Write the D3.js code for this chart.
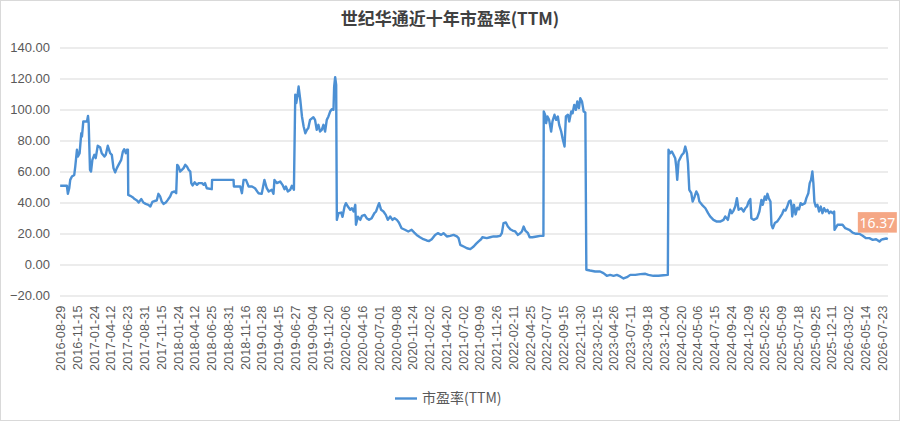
<!DOCTYPE html>
<html>
<head>
<meta charset="utf-8">
<script src="https://cdn.jsdelivr.net/npm/d3@7"></script>
<style>
  body { margin: 0; background: #fff; }
  svg { display: block; font-family: "Noto Sans", "Noto Sans CJK SC", sans-serif; }
  .grid line { stroke: #e6e6e6; stroke-width: 1.3; }
  .grid path { display: none; }
  .pe-line { fill: none; stroke: #4c90d4; stroke-width: 2.4; stroke-linejoin: round; }
</style>
</head>
<body>
<script>
// trading-day count of the series and the date shown every 50 trading days
const dayCount = 2469;
const dateLabels = [
  "2016-08-29", "2016-11-15", "2017-01-24", "2017-04-12", "2017-06-23", "2017-08-31", "2017-11-15",
  "2018-01-24", "2018-04-12", "2018-06-25", "2018-08-31", "2018-11-16", "2019-01-28", "2019-04-15",
  "2019-06-27", "2019-09-04", "2019-11-20", "2020-02-06", "2020-04-16", "2020-07-01", "2020-09-08",
  "2020-11-24", "2021-02-02", "2021-04-20", "2021-07-02", "2021-09-09", "2021-11-26", "2022-02-11",
  "2022-04-25", "2022-07-07", "2022-09-15", "2022-11-30", "2023-02-15", "2023-04-26", "2023-07-11",
  "2023-09-18", "2023-12-04", "2024-02-20", "2024-05-06", "2024-07-15", "2024-09-24", "2024-12-09",
  "2025-02-25", "2025-05-09", "2025-07-18", "2025-09-25", "2025-12-11", "2026-03-02", "2026-05-14",
  "2026-07-23"
];
const labelStep = 50;
const yTicks = [-20, 0, 20, 40, 60, 80, 100, 120, 140];

// [trading day index, PE TTM]
const pePoints = [
  [0,50.8],[20,50.8],[23,45.6],[27,49.2],[30,54.6],[35,56.8],[42,57.8],[45,63.2],[50,74],[53,69.7],
  [58,71.8],[63,84.7],[65,82.6],[69,92.3],[80,92.3],[83,95.9],[85,91.2],[89,61],[92,60],[96,67.5],
  [102,70.8],[106,68.6],[112,76.6],[119,75.7],[124,71.8],[132,69.7],[136,70.8],[142,76.6],[149,71.8],
  [154,70.8],[159,62.2],[164,59.4],[169,62.2],[174,64.3],[182,67.5],[187,72.9],[191,74.4],[196,71.8],
  [199,74],[202,74],[203,44.9],[209,44.3],[216,43.4],[222,42.2],[229,41.3],[234,40],[242,42.2],
  [248,40],[255,39.1],[263,38.5],[269,37.4],[275,40.4],[283,41.1],[288,41.3],[293,45.6],[298,43.9],
  [303,40.6],[308,39.1],[315,40],[321,41.7],[328,43.9],[333,46.5],[341,47.1],[346,46],[349,64.3],
  [353,63.2],[358,60],[363,61.1],[368,62.2],[373,64.3],[378,63.2],[383,61.1],[388,60],[391,52.5],
  [395,51],[401,53],[408,51.4],[413,52.5],[423,52.5],[428,51.4],[432,52.5],[437,49.2],[452,48.6],
  [453,54.6],[517,54.6],[518,50.3],[537,50.3],[542,46],[547,54.6],[554,54.6],[562,50.3],[572,50.3],
  [581,49.2],[591,46],[601,45.6],[609,54.6],[616,49.2],[622,47.1],[631,48.2],[636,45.6],[639,54.6],
  [646,52.5],[656,53.5],[663,51.4],[669,48.6],[673,50.3],[679,47.1],[686,48.2],[691,50.8],[697,48.2],
  [701,109.5],[704,104.1],[708,109.5],[711,114.8],[716,106.2],[721,95.5],[726,89],[731,84.7],
  [736,86.9],[740,88],[745,93.3],[755,95],[760,93.3],[765,86.9],[770,90.1],[775,85.8],[780,86.9],
  [785,90.1],[790,85.8],[795,93.3],[800,95.5],[805,98.7],[810,100.2],[815,99.8],[817,114.8],
  [820,120.9],[823,115.9],[825,28.8],[830,33.1],[838,33.5],[842,30.8],[848,37.4],[852,39.6],
  [858,37.4],[865,35.3],[870,36.3],[875,34.2],[880,38.5],[882,25.6],[888,30.8],[895,28.8],[900,31.4],
  [908,32],[914,29.9],[921,28.8],[929,29.9],[937,33.1],[942,34.2],[947,37.4],[951,39.6],[957,35.3],
  [964,34.2],[971,32],[977,28.8],[984,31],[991,28.8],[997,29.9],[1004,28.8],[1010,27.1],[1018,23.4],
  [1028,22.4],[1038,21.3],[1048,22.4],[1056,20.6],[1063,19.1],[1073,17.6],[1083,16.3],[1093,15.5],
  [1100,15.1],[1108,16.3],[1118,19.1],[1126,20.2],[1136,19.1],[1143,20.2],[1153,18.1],[1163,18.5],
  [1173,19.1],[1183,18.1],[1188,17],[1193,12.7],[1203,11.6],[1213,10.5],[1223,9.9],[1233,11.6],
  [1240,13.3],[1247,14.8],[1255,16.3],[1259,17.6],[1272,17],[1282,17.6],[1292,18.1],[1302,18.1],
  [1312,18.5],[1317,20.2],[1322,26.7],[1329,27.1],[1335,24.5],[1342,22.8],[1349,21.9],[1357,21.3],
  [1365,19.1],[1372,20.2],[1377,21.3],[1382,24.5],[1387,21.9],[1395,20.2],[1400,17.6],[1408,17.6],
  [1421,18.1],[1431,18.5],[1441,18.5],[1442,98.7],[1446,96.6],[1449,91.2],[1453,95.5],[1458,93.3],
  [1464,85.8],[1468,92.3],[1474,96.6],[1479,93.3],[1484,95.5],[1488,90.1],[1494,85.8],[1498,81.5],
  [1504,76.1],[1508,95.5],[1514,96.6],[1518,92.3],[1524,98.7],[1528,97.6],[1533,103],[1538,99.8],
  [1542,105.2],[1547,100.9],[1551,107.3],[1556,105.2],[1561,98.7],[1566,98],[1569,-3.4],[1580,-3.9],
  [1595,-4.5],[1610,-4.5],[1620,-5.6],[1630,-7.3],[1640,-6.7],[1650,-7.3],[1660,-6.7],[1670,-7.7],
  [1680,-9],[1690,-8.2],[1700,-6.7],[1715,-6.7],[1730,-6.2],[1745,-6],[1754,-6.7],[1769,-7.3],
  [1784,-7.3],[1799,-6.9],[1812,-6.7],[1814,74],[1819,71.8],[1824,72.9],[1829,70.8],[1834,68.6],
  [1837,63.2],[1840,54.6],[1844,66.5],[1849,68.6],[1854,70.8],[1859,71.8],[1864,76.1],[1869,71.8],
  [1872,65.4],[1876,48.2],[1882,46],[1886,40.6],[1892,43.9],[1897,47.1],[1902,45],[1906,40.6],
  [1914,38.5],[1924,36.3],[1932,33.1],[1938,31],[1948,28.8],[1958,27.7],[1968,27.7],[1978,28.8],
  [1983,31],[1991,28.8],[1998,35.3],[2003,33.1],[2008,34.8],[2013,37.4],[2018,42.8],[2023,35.3],
  [2031,36.3],[2038,34.2],[2043,36.3],[2048,37.4],[2053,40.6],[2058,42.2],[2061,29.9],[2068,28.8],
  [2078,29.9],[2085,34.2],[2091,41.7],[2095,38.5],[2101,43.9],[2105,41.7],[2109,45.6],[2113,42.8],
  [2118,40.6],[2121,25.6],[2125,23.4],[2131,26.7],[2138,27.7],[2145,29.9],[2153,32.7],[2158,35.3],
  [2163,34.8],[2168,37.4],[2173,40.6],[2178,41.3],[2181,37.4],[2183,31],[2188,38.5],[2193,32.3],
  [2198,36.6],[2203,35.5],[2208,39.6],[2213,38.5],[2221,39.6],[2225,42.8],[2231,46],[2235,52.5],
  [2239,54.6],[2243,60],[2246,52.5],[2249,40.6],[2253,37.4],[2258,38.5],[2263,34.2],[2268,37.4],
  [2273,33.1],[2278,36.3],[2283,34.2],[2288,35.3],[2293,33.1],[2298,34.2],[2303,33.1],[2308,34.2],
  [2309,22.4],[2318,25.6],[2325,25.6],[2333,25.6],[2341,23.4],[2353,22.4],[2363,20.6],[2373,19.8],
  [2383,19.8],[2393,18.5],[2403,17],[2413,17],[2423,15.9],[2433,16.3],[2443,14.8],[2448,15.9],
  [2453,16.3],[2463,16.8],[2468,16.37]
];

const W = 900, H = 421;
const plot = { left: 60, right: 888, top: 47.5, bottom: 295.5 };

const svg = d3.select("body").append("svg")
  .attr("width", W)
  .attr("height", H);

svg.append("rect")
  .attr("x", 0.5).attr("y", 0.5)
  .attr("width", W - 1).attr("height", H - 1)
  .attr("fill", "#fff")
  .attr("stroke", "#d9d9d9");

const x = d3.scaleLinear()
  .domain([-0.5, dayCount - 0.5])
  .range([plot.left, plot.right]);
const y = d3.scaleLinear()
  .domain([-20, 140])
  .range([plot.bottom, plot.top]);

// grid
svg.append("g")
  .attr("class", "grid")
  .attr("transform", "translate(" + plot.left + ",0)")
  .call(d3.axisLeft(y)
    .tickValues(yTicks)
    .tickSize(-(plot.right - plot.left))
    .tickFormat("")
  );

// y labels
const yAxis = svg.append("g")
  .attr("transform", "translate(" + plot.left + ",0)")
  .call(d3.axisLeft(y)
    .tickValues(yTicks)
    .tickSize(0)
    .tickPadding(10)
    .tickFormat(d3.format(".2f"))
  );
yAxis.select(".domain").remove();
yAxis.selectAll("text")
  .attr("fill", "#595959")
  .style("font-size", "13px");

// x labels
const xAxis = svg.append("g")
  .attr("transform", "translate(0," + (plot.bottom + 2) + ")")
  .call(d3.axisBottom(x)
    .tickValues(dateLabels.map((d, i) => i * labelStep))
    .tickSize(0)
    .tickFormat((d, i) => dateLabels[i])
  );
xAxis.select(".domain").remove();
xAxis.selectAll("text")
  .attr("transform", "rotate(-90)")
  .attr("text-anchor", "end")
  .attr("x", -8)
  .attr("y", 0)
  .attr("dy", "0.35em")
  .attr("fill", "#595959")
  .style("font-size", "12.8px");

// PE line
const line = d3.line()
  .x(d => x(d[0]))
  .y(d => y(d[1]));

svg.append("path")
  .datum(pePoints)
  .attr("class", "pe-line")
  .attr("d", line);

// last value label
const last = pePoints[pePoints.length - 1];
const lx = x(last[0]), ly = y(last[1]);
svg.append("rect")
  .attr("x", lx - 30)
  .attr("y", ly - 27)
  .attr("width", 39)
  .attr("height", 20.5)
  .attr("fill", "#f5a785");
svg.append("text")
  .attr("x", lx - 10.5)
  .attr("y", ly - 16.5)
  .attr("dy", "0.35em")
  .attr("text-anchor", "middle")
  .attr("fill", "#fff")
  .style("font-size", "14px")
  .text(d3.format(".2f")(last[1]));

// title
svg.append("text")
  .attr("x", W / 2)
  .attr("y", 19)
  .attr("dy", "0.35em")
  .attr("text-anchor", "middle")
  .attr("fill", "#404040")
  .style("font-family", "'Noto Sans CJK SC', sans-serif")
  .style("font-size", "17px")
  .style("font-weight", "bold")
  .text("世纪华通近十年市盈率(TTM)");

// legend
svg.append("line")
  .attr("x1", 395).attr("x2", 417)
  .attr("y1", 398.5).attr("y2", 398.5)
  .attr("stroke", "#4c90d4")
  .attr("stroke-width", 2.4);
svg.append("text")
  .attr("x", 422)
  .attr("y", 398.5)
  .attr("dy", "0.35em")
  .attr("fill", "#595959")
  .style("font-family", "'Noto Sans CJK SC', sans-serif")
  .style("font-size", "14px")
  .text("市盈率(TTM)");
</script>
</body>
</html>
